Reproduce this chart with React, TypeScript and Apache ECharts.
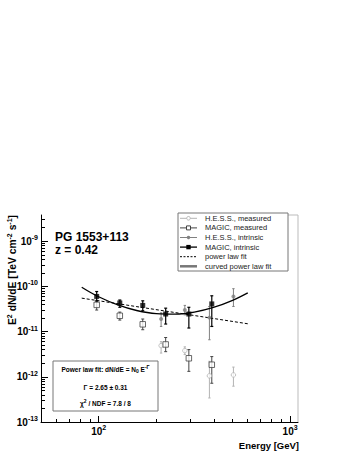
import React, { useEffect, useRef } from 'react';
import * as echarts from 'echarts';

// ---- data ----
const hessEnergy = [212, 282, 379, 506];
const hessMeasured = [4.9e-12, 3.8e-12, 1.05e-12, 1.1e-12];
const hessMeasuredLo = [3.35e-12, 3.1e-12, 3.4e-13, 6.2e-13];
const hessMeasuredHi = [6.0e-12, 4.6e-12, 2.2e-12, 1.64e-12];
const hessIntrinsic = [1.9e-11, 3.0e-11, 2.04e-11, 6.0e-11];
const hessIntrinsicLo = [1.3e-11, 2.35e-11, 6.6e-12, 3.6e-11];
const hessIntrinsicHi = [2.6e-11, 3.8e-11, 3.6e-11, 8.9e-11];

const magicEnergy = [97.7, 129, 170, 224, 296, 390];
const magicMeasured = [3.9e-11, 2.24e-11, 1.45e-11, 5.2e-12, 2.57e-12, 1.85e-12];
const magicMeasuredLo = [3.0e-11, 1.8e-11, 1.1e-11, 3.6e-12, 1.32e-12, 7.2e-13];
const magicMeasuredHi = [4.9e-11, 2.7e-11, 1.9e-11, 7.4e-12, 4.0e-12, 2.8e-12];
const magicIntrinsic = [6.0e-11, 4.3e-11, 3.8e-11, 2.45e-11, 2.45e-11, 4.1e-11];
const magicIntrinsicLo = [4.7e-11, 3.45e-11, 2.9e-11, 1.47e-11, 1.2e-11, 1.3e-11];
const magicIntrinsicHi = [7.7e-11, 5.0e-11, 4.8e-11, 3.3e-11, 3.45e-11, 6.2e-11];

const powerLawEnergy = [81.6, 601];
const powerLawFlux = [5.5e-11, 1.49e-11];
const curvedEnergy = [81.6, 100, 126, 158, 200, 251, 316, 398, 501, 601];
const curvedFlux = [9.6e-11, 5.9e-11, 3.9e-11, 2.93e-11, 2.5e-11, 2.44e-11, 2.7e-11, 3.43e-11, 4.93e-11, 7.2e-11];

const xTickValues = [100, 1000];
const xTickExps = ['2', '3'];
const xMinorTicks = [50, 60, 70, 80, 90, 200, 300, 400, 500, 600, 700, 800, 900];
const yTickValues = [1e-13, 1e-12, 1e-11, 1e-10, 1e-9];
const yTickExps = ['-13', '-12', '-11', '-10', '-9'];
const yMinorTicks: number[] = [];
[1e-13, 1e-12, 1e-11, 1e-10, 1e-9].forEach((d) => {
  [2, 3, 4, 5, 6, 7, 8, 9].forEach((m) => yMinorTicks.push(m * d));
});

const legendNames = [
  'H.E.S.S., measured',
  'MAGIC, measured',
  'H.E.S.S., intrinsic',
  'MAGIC, intrinsic',
  'power law fit',
  'curved power law fit',
];

const FONT = 'Liberation Sans, Arial, Helvetica, sans-serif';
const HESS_M = '#b4b4b4';
const MAGIC_M = '#444444';
const HESS_I = '#808080';
const MAGIC_I = '#000000';

const pairs = (xs: number[], ys: number[]) => xs.map((x, i) => [x, ys[i]]);

function errorSeries(name: string, xs: number[], lo: number[], hi: number[], color: string, cap: number, width: number) {
  return {
    type: 'custom',
    name: name + ' errors',
    silent: true,
    z: 2,
    data: xs.map((x, i) => [x, lo[i], hi[i]]),
    encode: { x: 0, y: [1, 2] },
    renderItem: (params: any, api: any) => {
      const x = api.value(0);
      const a = api.coord([x, api.value(1)]);
      const b = api.coord([x, api.value(2)]);
      const st = { stroke: color, lineWidth: width };
      return {
        type: 'group',
        children: [
          { type: 'line', shape: { x1: a[0], y1: a[1], x2: b[0], y2: b[1] }, style: st },
          { type: 'line', shape: { x1: a[0] - cap, y1: a[1], x2: a[0] + cap, y2: a[1] }, style: st },
          { type: 'line', shape: { x1: b[0] - cap, y1: b[1], x2: b[0] + cap, y2: b[1] }, style: st },
        ],
      };
    },
  };
}

const supRich = {
  b: { fontSize: 10, fontWeight: 'bold', fontFamily: FONT, color: '#000' },
  s: { fontSize: 7, fontWeight: 'bold', fontFamily: FONT, color: '#000', padding: [0, 0, 7, 0] },
};

export default function App() {
  const ref = useRef<HTMLDivElement>(null);
  useEffect(() => {
    if (!ref.current) return;
    const chart = echarts.init(ref.current, null, { renderer: 'svg' });

    const legendTop = 218.3;
    const legendStep = 9.6;
    const lx1 = 180;
    const lx2 = 197;
    const mx = 188.5;
    const legendGraphics: any[] = [
      { type: 'rect', shape: { x: 178, y: 213, width: 110, height: 58 }, style: { fill: '#fff', stroke: '#777', lineWidth: 1 }, z: 10 },
    ];
    const lineStyles = [
      { stroke: HESS_M, lineWidth: 1 },
      { stroke: MAGIC_M, lineWidth: 1 },
      { stroke: HESS_I, lineWidth: 1 },
      { stroke: MAGIC_I, lineWidth: 1.3 },
      { stroke: '#000', lineWidth: 1, lineDash: [2, 1.5] },
      { stroke: '#777', lineWidth: 2.5 },
    ];
    legendNames.forEach((n, i) => {
      const y = legendTop + i * legendStep;
      legendGraphics.push({ type: 'line', shape: { x1: lx1, y1: y, x2: lx2, y2: y }, style: lineStyles[i], z: 11 });
      legendGraphics.push({
        type: 'text', x: 205, y, z: 11,
        style: { text: n, fontSize: 7.5, fontFamily: FONT, fill: '#222', textVerticalAlign: 'middle', textAlign: 'left' },
      });
    });
    const y0 = legendTop;
    legendGraphics.push({ type: 'circle', shape: { cx: mx, cy: y0, r: 1.8 }, style: { fill: '#fff', stroke: HESS_M, lineWidth: 1 }, z: 12 });
    legendGraphics.push({ type: 'rect', shape: { x: mx - 2, y: y0 + legendStep - 2, width: 4, height: 4 }, style: { fill: '#fff', stroke: MAGIC_M, lineWidth: 1 }, z: 12 });
    legendGraphics.push({ type: 'circle', shape: { cx: mx, cy: y0 + 2 * legendStep, r: 1.7 }, style: { fill: HESS_I }, z: 12 });
    legendGraphics.push({ type: 'rect', shape: { x: mx - 2.2, y: y0 + 3 * legendStep - 2.2, width: 4.4, height: 4.4 }, style: { fill: MAGIC_I }, z: 12 });

    const boxGraphics: any[] = [
      { type: 'rect', shape: { x: 53, y: 361, width: 105, height: 50 }, style: { fill: '#fff', stroke: '#777', lineWidth: 1 }, z: 10 },
      {
        type: 'text', x: 105.5, y: 369, z: 11,
        style: {
          text: 'Power law fit: dN/dE = N{sub|0} E{sup|-Γ}',
          textAlign: 'center', textVerticalAlign: 'middle',
          fontSize: 6.5, fontWeight: 'bold', fontFamily: FONT, fill: '#000',
          rich: {
            sub: { fontSize: 5, fontWeight: 'bold', fontFamily: FONT, padding: [4, 0, 0, 0] },
            sup: { fontSize: 5, fontWeight: 'bold', fontFamily: FONT, padding: [0, 0, 5, 0] },
          },
        },
      },
      {
        type: 'text', x: 105.5, y: 387.5, z: 11,
        style: { text: 'Γ = 2.65 ± 0.31', textAlign: 'center', textVerticalAlign: 'middle', fontSize: 6.5, fontWeight: 'bold', fontFamily: FONT, fill: '#000' },
      },
      {
        type: 'text', x: 105.5, y: 403.5, z: 11,
        style: {
          text: 'χ{sup|2} / NDF = 7.8 / 8',
          textAlign: 'center', textVerticalAlign: 'middle',
          fontSize: 6.5, fontWeight: 'bold', fontFamily: FONT, fill: '#000',
          rich: { sup: { fontSize: 5, fontWeight: 'bold', fontFamily: FONT, padding: [0, 0, 5, 0] } },
        },
      },
    ];

    const frameGraphics: any[] = [
      { type: 'line', shape: { x1: 288, y1: 215, x2: 298, y2: 215 }, style: { stroke: '#bbb', lineWidth: 1 }, z: 1 },
      { type: 'line', shape: { x1: 298, y1: 215, x2: 298, y2: 422 }, style: { stroke: '#bbb', lineWidth: 1 }, z: 1 },
    ];

    const titleGraphics: any[] = [
      { type: 'text', x: 55, y: 237, style: { text: 'PG 1553+113', fontSize: 12, fontWeight: 'bold', fontFamily: FONT, fill: '#000', textVerticalAlign: 'middle' } },
      { type: 'text', x: 55, y: 250, style: { text: 'z = 0.42', fontSize: 12, fontWeight: 'bold', fontFamily: FONT, fill: '#000', textVerticalAlign: 'middle' } },
      {
        type: 'text', x: 12, y: 215, rotation: Math.PI / 2,
        style: {
          text: 'E{s|2} dN/dE [TeV cm{s|-2} s{s|-1}]',
          textAlign: 'right', textVerticalAlign: 'middle',
          fontSize: 10.3, fontWeight: 'bold', fontFamily: FONT, fill: '#000',
          rich: { s: { fontSize: 7, fontWeight: 'bold', fontFamily: FONT, padding: [0, 0, 6, 0] } },
        },
      },
      {
        type: 'text', x: 299, y: 445,
        style: { text: 'Energy [GeV]', textAlign: 'right', textVerticalAlign: 'middle', fontSize: 9.5, fontWeight: 'bold', fontFamily: FONT, fill: '#000' },
      },
    ];

    const option: any = {
      animation: false,
      backgroundColor: '#fff',
      grid: { left: 41, top: 215, width: 257, height: 207, show: false },
      xAxis: [
        {
          type: 'log', logBase: 10, min: 50, max: 1100,
          axisLine: { show: true, onZero: false, lineStyle: { color: '#000', width: 1 } },
          axisTick: { show: true, inside: true, length: 6, customValues: xTickValues, lineStyle: { color: '#000' } },
          axisLabel: {
            show: true, customValues: xTickValues, margin: 2,
            formatter: (v: number) => {
              const i = xTickValues.findIndex((t) => Math.abs(t - v) / t < 1e-6);
              return i >= 0 ? `{b|10}{s|${xTickExps[i]}}` : '';
            },
            rich: supRich,
          },
          splitLine: { show: false },
        },
        {
          type: 'log', logBase: 10, min: 50, max: 1100, position: 'bottom',
          axisLine: { show: false },
          axisTick: { show: true, inside: true, length: 3, customValues: xMinorTicks, lineStyle: { color: '#000' } },
          axisLabel: { show: false },
          splitLine: { show: false },
        },
      ],
      yAxis: [
        {
          type: 'log', logBase: 10, min: 1e-13, max: 3.8e-9,
          axisLine: { show: true, onZero: false, lineStyle: { color: '#000', width: 1 } },
          axisTick: { show: true, inside: true, length: 7, customValues: yTickValues, lineStyle: { color: '#000' } },
          axisLabel: {
            show: true, customValues: yTickValues, margin: 3,
            formatter: (v: number) => {
              const i = yTickValues.findIndex((t) => Math.abs(t - v) / t < 1e-6);
              return i >= 0 ? `{b|10}{s|${yTickExps[i]}}` : '';
            },
            rich: supRich,
          },
          splitLine: { show: false },
        },
        {
          type: 'log', logBase: 10, min: 1e-13, max: 3.8e-9, position: 'left',
          axisLine: { show: false },
          axisTick: { show: true, inside: true, length: 4, customValues: yMinorTicks, lineStyle: { color: '#000' } },
          axisLabel: { show: false },
          splitLine: { show: false },
        },
      ],
      series: [
        errorSeries('H.E.S.S., measured', hessEnergy, hessMeasuredLo, hessMeasuredHi, HESS_M, 1.2, 1),
        errorSeries('MAGIC, measured', magicEnergy, magicMeasuredLo, magicMeasuredHi, MAGIC_M, 1.5, 1),
        errorSeries('H.E.S.S., intrinsic', hessEnergy, hessIntrinsicLo, hessIntrinsicHi, HESS_I, 1.2, 1),
        errorSeries('MAGIC, intrinsic', magicEnergy, magicIntrinsicLo, magicIntrinsicHi, MAGIC_I, 1.5, 1.2),
        {
          type: 'line', name: 'power law fit', data: pairs(powerLawEnergy, powerLawFlux),
          showSymbol: false, symbol: 'none', z: 3,
          lineStyle: { color: '#000', width: 1, type: [3, 2] },
        },
        {
          type: 'line', name: 'curved power law fit', data: pairs(curvedEnergy, curvedFlux),
          showSymbol: false, symbol: 'none', smooth: 0.4, z: 3,
          lineStyle: { color: '#000', width: 1.3 },
        },
        {
          type: 'scatter', name: 'H.E.S.S., measured', data: pairs(hessEnergy, hessMeasured),
          symbol: 'circle', symbolSize: 4.5, z: 4,
          itemStyle: { color: '#fff', borderColor: HESS_M, borderWidth: 1 },
        },
        {
          type: 'scatter', name: 'MAGIC, measured', data: pairs(magicEnergy, magicMeasured),
          symbol: 'rect', symbolSize: 5.5, z: 4,
          itemStyle: { color: '#fff', borderColor: MAGIC_M, borderWidth: 1 },
        },
        {
          type: 'scatter', name: 'H.E.S.S., intrinsic', data: pairs(hessEnergy, hessIntrinsic),
          symbol: 'circle', symbolSize: 4, z: 4,
          itemStyle: { color: HESS_I },
        },
        {
          type: 'scatter', name: 'MAGIC, intrinsic', data: pairs(magicEnergy, magicIntrinsic),
          symbol: 'rect', symbolSize: 5, z: 5,
          itemStyle: { color: MAGIC_I },
        },
      ],
      graphic: [...frameGraphics, ...titleGraphics, ...legendGraphics, ...boxGraphics],
    };
    chart.setOption(option);
    return () => chart.dispose();
  }, []);

  return (
    <div
      ref={ref}
      style={{ position: 'fixed', left: 0, top: 0, width: 349, height: 451, background: '#fff' }}
    />
  );
}
